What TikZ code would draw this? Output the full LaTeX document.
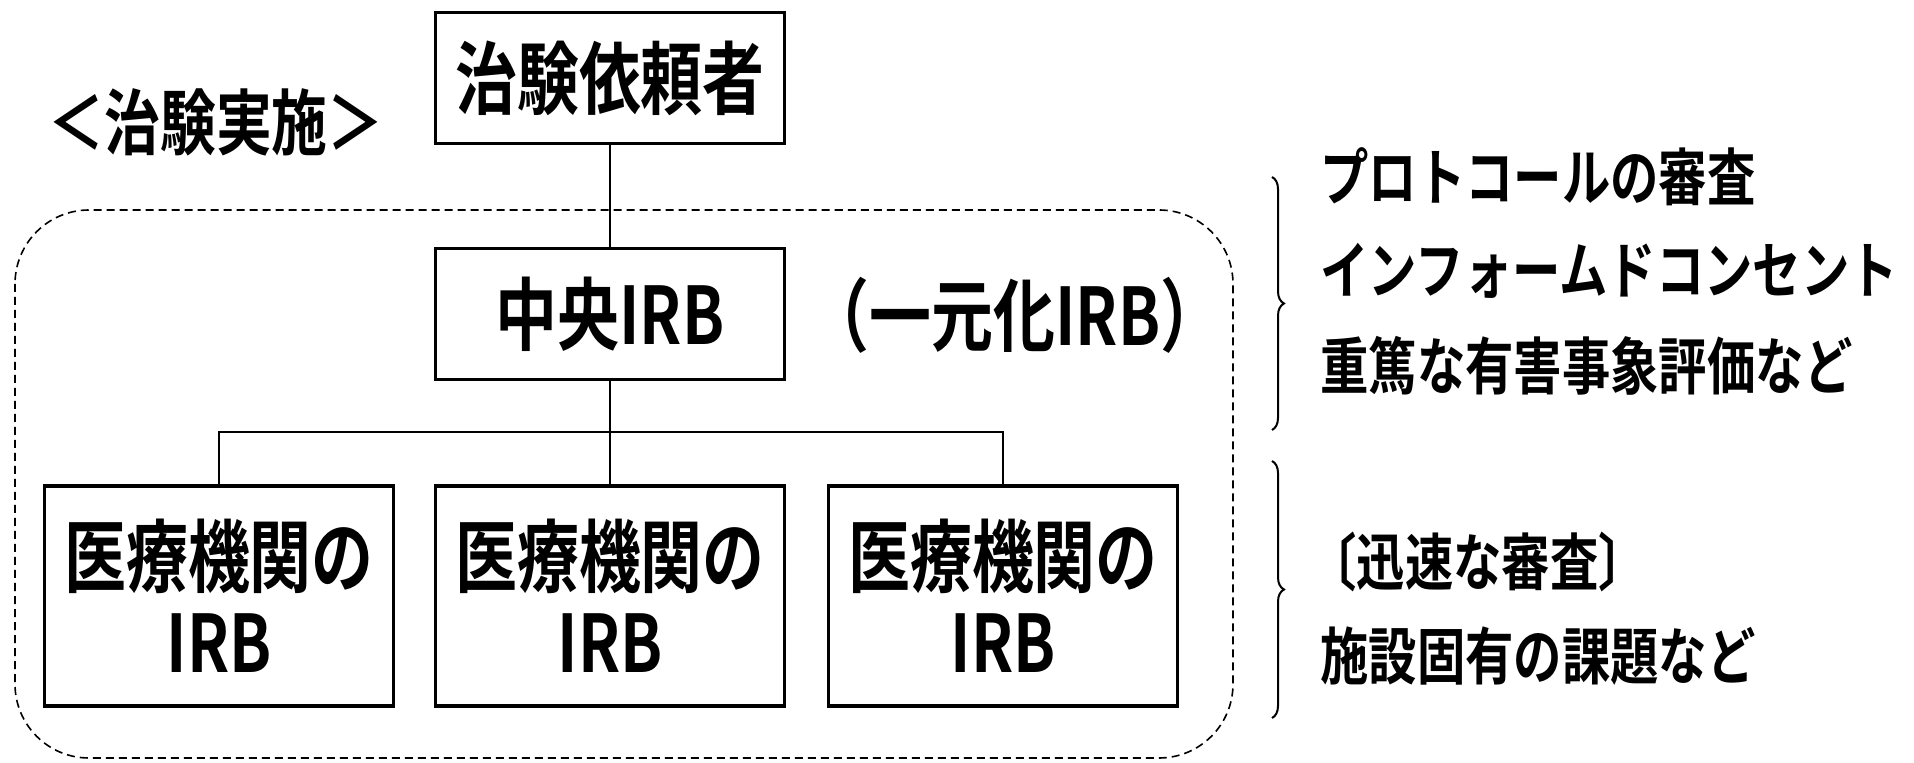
\documentclass[tikz,border=0pt]{standalone}
\usepackage{fontspec}
\setmainfont{Noto Sans CJK JP}[FakeStretch=0.78,BoldFont={* Bold}]
\usetikzlibrary{decorations.pathreplacing}
\tikzset{
  box/.style={draw, line width=1.9pt, minimum width=174.5pt, align=center, inner sep=0pt, font=\fontsize{39.7}{43}\selectfont\bfseries},
  smallbox/.style={box, minimum height=65.5pt},
  bigbox/.style={box, minimum height=110pt},
  conn/.style={line width=1.2pt},
  label/.style={font=\fontsize{39.7}{43}\selectfont\bfseries, inner sep=0pt},
  side/.style={font=\fontsize{31}{34}\selectfont\bfseries, anchor=west, inner sep=0pt},
  bracestyle/.style={line width=1pt, decorate, decoration={brace, amplitude=6pt}},
}
\begin{document}
\begin{tikzpicture}[x=0.5pt,y=-0.5pt]
\useasboundingbox (0,0) rectangle (1914,763);
\draw[line width=0.8pt, dash pattern=on 4pt off 2.5pt, rounded corners=37pt] (15,210) rectangle (1233,758);
\node[smallbox] (top) at (610,78) {治験依頼者};
\node[smallbox] (mid) at (610,314) {中央IRB};
\node[bigbox] (b1) at (219,596) {医療機関の\\IRB};
\node[bigbox] (b2) at (610,596) {医療機関の\\IRB};
\node[bigbox] (b3) at (1003,596) {医療機関の\\IRB};
\node[font=\fontsize{35.8}{38}\selectfont\bfseries, inner sep=0pt] (title) at (216,122) {＜治験実施＞};
\node[label] (uni) at (1015,315) {（一元化IRB）};
\coordinate (j) at (mid.south |- 0,432);
\draw[conn] (top) -- (mid);
\draw[conn] (mid) -- (b2);
\draw[conn] (b1.north) -- (b1.north |- j) -- (b3.north |- j) -- (b3.north);
\coordinate (br1t) at (1272,177);
\coordinate (br1b) at (1272,430);
\coordinate (br2t) at (1272,461);
\coordinate (br2b) at (1272,718);
\draw[bracestyle] (br1t) -- (br1b);
\draw[bracestyle] (br2t) -- (br2b);
\node[side] (t1) at (1320,177) {プロトコールの審査};
\node[side] (t2) at (1320,271) {インフォームドコンセント};
\node[side] (t3) at (1320,366) {重篤な有害事象評価など};
\node[side] (t4) at (1308,562) {〔迅速な審査〕};
\node[side] (t5) at (1320,656) {施設固有の課題など};
\end{tikzpicture}
\end{document}
